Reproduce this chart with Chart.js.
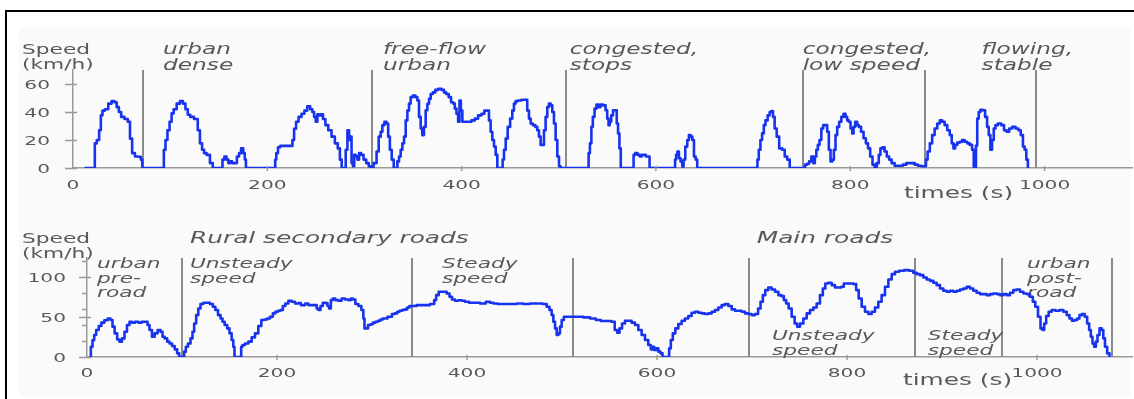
<!DOCTYPE html>
<html>
<head>
<meta charset="utf-8">
<script src="https://cdn.jsdelivr.net/npm/chart.js@4.4.1/dist/chart.umd.min.js"></script>
<style>
  html, body { margin: 0; padding: 0; background: #ffffff; }
  #wrap { position: relative; width: 1134px; height: 399px; overflow: hidden; }
  #frame { position: absolute; left: 5px; top: 10px; width: 1140px; height: 400px;
           border-top: 2px solid #000; border-left: 2px solid #000; }
  #panel { position: absolute; left: 19px; top: 28px; width: 1112px; height: 368px; background: #fafafa; }
  canvas { position: absolute; left: 0; }
</style>
</head>
<body>
<div id="wrap">
  <div id="frame"></div>
  <div id="panel"></div>
  <canvas id="urban" width="1134" height="200" style="top:0"></canvas>
  <canvas id="road" width="1134" height="199" style="top:200px"></canvas>
</div>
<script>
// ---------- Upper panel: urban cycle ----------
const urbanTimes = [
  12, 21.9, 23, 26, 27.8, 29.5, 31.2, 34.6, 38, 41.5, 43.9, 46, 48.4, 50.8, 55.2, 57.6, 59.7, 62, 65.5, 69, 70.6, 72,
  93, 94, 96.4, 98, 100.8, 102.2, 105, 108.4, 111.8, 114.5, 117, 119.3, 122, 127.2, 129.6, 131.7, 134, 135.8, 139.2, 142.7, 145,
  153, 154.7, 157, 159, 160.8, 162.6, 165, 167.4, 170, 171.8, 174.2, 176.3, 177.3, 178.7,
  207.8, 208.5, 210, 212, 214.7, 225, 226.7, 228.4, 230.8, 233.5, 237, 239.4, 242.8, 245.5, 247.3, 249, 250.7, 252.4, 254, 256,
  258.6, 261, 264.4, 267.8, 271.3, 273.7, 275.7, 277.4, 279.8, 281.6, 283.3, 285, 286, 287.4, 288.8, 290.1, 291.8, 293.6, 295.3,
  297.7, 300.4, 303.2, 305.6, 307.3,
  311.4, 313.5, 315.8, 317.6, 319.3, 321.7, 323.7, 325.1, 327.2, 328.9, 331.3, 333, 334.7, 336.4, 338.1, 339.9, 341.6, 343.3,
  345, 346.7, 348.4, 351.2, 353.6, 355.3, 357, 358.7, 360.4, 362.1, 363.9, 365.6, 367.3, 369, 371.7, 374.1, 377.6, 381, 382.7,
  385.5, 387.9, 390.3, 392.3, 393.7, 395.7, 397.1, 398.5, 399.9, 401.6, 408.4, 411.9, 415.3, 418.7, 422.2, 424.6, 427.3, 429,
  430.7, 432.4, 434.2, 435.9, 437.6, 441.7, 442.7, 444.5, 446.2, 448.6, 451.3, 453, 454.7, 456.4, 459.8, 463.3, 466.7, 468.4,
  470.2, 471.9, 474.6, 477, 478.7, 480.5, 482.2, 483.9, 485.6, 487.3, 489, 490.7, 492.5, 494.2, 495.9, 497.6, 499.4, 501.1, 502.7,
  530.2, 531.2, 532.9, 534.2, 535.9, 537.7, 539.8, 542.1, 543.9, 547.3, 549, 550.7, 551.7, 553.1, 554.8, 556.9, 559, 560.3,
  561.7, 563.1, 564.5, 576.5, 577.5, 579.9, 582.3, 584.4, 586.7, 592.6, 594.3,
  619.3, 620.1, 621.4, 622.8, 624.5, 626.2, 627.9, 629, 631.4, 633.1, 634.8, 636.6, 638.3, 640, 641.7, 643.3,
  704.1, 704.8, 706.9, 708.2, 710.3, 711.7, 713.8, 716.2, 717.9, 719.6, 721.3, 723.1, 725.5, 728.2, 731.7, 733.4, 736.8, 738.6,
  752, 754.8, 756.5, 758.9, 761, 762.7, 764.4, 765.8, 767.5, 769.2, 771.3, 773, 775.4, 777.1, 778.8, 780.6, 782.3, 784, 785.7,
  787.4, 789.8, 791.9, 794.3, 796, 797.7, 799.4, 801.2, 802.9, 803.9, 806.3, 808, 809.7, 812.5, 814.9, 817.3, 819.3, 821.7,
  824.1, 826.1, 828.5, 830.2, 831.9, 834.3, 836.4, 838.8, 841.2, 843.9, 847.4, 852.5, 856, 859.4, 864.6, 868, 871.4, 875,
  877.3, 878.6, 880.7, 883.1, 885.5, 888.2, 891, 893.4, 895.8, 898.5, 901.2, 903.6, 905.3, 907.1, 908.8, 911.5, 913.9, 916.3,
  919.1, 921.8, 924.2, 926.6, 927.6, 928.8, 930, 931.4, 933.1, 934.8, 937.6, 940, 941.7, 943.4, 945.1, 946.8, 948.6, 950.3,
  953.7, 957.1, 959.5, 962.3, 965, 968.4, 971.9, 974.3, 976.7, 978.8, 980.2, 982.2, 983.5
];
const urbanSpeeds = [
  0, 0, 17.6, 20, 27, 37.6, 41, 42, 46, 47.8, 47, 43.5, 40, 36.5, 35, 33, 21, 10.6, 8.2, 8, 6, 0,
  0, 13, 20, 27, 33, 39, 42, 46, 47.8, 46, 42, 38, 36.5, 35, 27, 17.6, 13, 10.6, 9.4, 3.5, 0,
  0, 6, 8.2, 6, 3.5, 4.7, 3.5, 3.5, 8.2, 10.6, 14, 10.6, 6, 0,
  0, 6, 10.6, 14.8, 15.8, 15.8, 20, 28, 33, 36.5, 38.8, 41, 44, 42, 40, 36.5, 33, 38.4, 37.6, 38.4,
  35, 30.6, 27, 22.4, 17.6, 14, 6, 0, 0, 13, 27, 20, 22.4, 3.5, 1.2, 9.4, 8.2, 6, 10.6,
  9.4, 6, 3.5, 1.2, 0,
  3.5, 11.8, 22.4, 25.9, 30.6, 33, 31.8, 22.4, 13, 6, 0, 0, 4.7, 8.2, 13, 17.6, 22.4, 34,
  41, 46, 50.6, 51.8, 50.6, 48.2, 36.5, 28.2, 23.5, 29.4, 41.2, 45.9, 49.4, 52.9, 54, 55.8, 56.5, 55.8, 54,
  52.9, 50.6, 47, 46, 42.4, 38.8, 33, 48.2, 41, 33, 33, 34, 35.3, 37.6, 38.8, 41, 41, 34,
  25.9, 20, 15.3, 9.4, 0, 0, 6, 13, 21, 29.4, 35.3, 41, 46, 47.8, 48.2, 48.7, 48.7, 41,
  35.3, 31.8, 30.6, 29.4, 27, 22.4, 16.5, 16.5, 27, 36.5, 43.5, 46, 44.7, 40, 31.8, 20, 8.2, 1.2, 0,
  0, 10.6, 17.6, 29.4, 36.5, 42.4, 45.4, 43.5, 45.4, 44.7, 41.2, 35.3, 30.6, 33, 37.6, 41.2, 41.2, 31.8,
  24.7, 14, 0, 0, 9.4, 10.6, 9.4, 8.2, 9.4, 8.2, 0,
  0, 6, 9.4, 11.8, 7, 4.7, 1, 6, 15.3, 20, 23.5, 22.4, 20, 8.2, 6, 0,
  0, 6, 13, 20, 24.7, 30.6, 34, 37.6, 40, 40.7, 36.5, 28.2, 22.4, 14, 13, 8.2, 6, 0,
  0, 2.4, 3, 4.7, 8.2, 3.5, 8.2, 13, 16.5, 20, 28.2, 30.6, 30.6, 25.9, 13, 4.7, 5.9, 13, 23.5,
  29.4, 33, 36.5, 38.8, 36.5, 34, 33, 28.2, 24.7, 29.4, 33, 30.6, 29.4, 25.9, 21.2, 17.6, 14, 8.2,
  2.4, 0, 3.5, 9.4, 14, 14.8, 11.8, 8.2, 6, 3.5, 1.6, 1.6, 2.4, 3.5, 3.5, 2.4, 1.6, 1.2,
  1.2, 6, 11.8, 17.6, 23.5, 28.2, 31.8, 34, 33, 30.6, 27, 23.5, 17.6, 14, 16.5, 18.1, 18.8, 20,
  18.8, 17.6, 16.5, 13, 0, 0, 16, 35.3, 40, 41.6, 41.2, 36.5, 29.4, 23.5, 13, 20, 28.2, 30.6,
  31.8, 30.6, 27, 25.9, 28.2, 29.4, 28.2, 27, 23.5, 15.3, 13, 6, 0
];
const urbanZoneEnds = [72, 308, 507, 751, 877, 991];
const urbanZoneNames = [["urban", "dense"], ["free-flow", "urban"], ["congested,", "stops"],
                        ["congested,", "low speed"], ["flowing,", "stable"]];
const urbanXTicks = [0, 200, 400, 600, 800, 1000];
const urbanYTicks = [0, 20, 40, 60];
const urbanYLabels = [0, 20, 40, 60];

// ---------- Lower panel: rural and main roads ----------
const roadTimes = [
  3.2, 4.9, 6.7, 8.4, 10.9, 13.7, 16.5, 20, 23.5, 26, 27.7, 30.5, 33, 35.4, 38.2, 40.7, 43.5, 46, 48.8, 52.3, 55.8, 59.3,
  62.8, 64.6, 67, 69.8, 72.6, 76.1, 78.6, 80.4, 83.2, 85.6, 88.1, 90.9, 93.7, 96.1, 97.9,
  101.4, 103.2, 104.9, 107.7, 110.2, 111.9, 113.7, 116.1, 118.2, 120.7, 124.2, 127.7, 131.2, 133.7, 136.5, 139.3, 141.8,
  143.5, 146.3, 148.8, 151.2, 153.3, 154.7, 155.8, 161.8, 162.8, 164.6, 168.1, 171.6, 175.1, 178.6, 182.1, 184.9, 188.4,
  190.9, 194.4, 196.8, 199.6, 202.5, 204.9, 207.4, 210.2, 213.7, 217.2, 220.7, 224.2, 226, 228.4, 231.2, 234.7, 238.2, 241,
  242.5, 244.6, 247, 249.5, 252.3, 254, 255.8, 257.5, 260, 262.8, 266.3, 269.8, 273.3, 276.8, 278.6, 281.1, 283.9, 287.4,
  290.2, 291.6, 292.6, 294.4, 297.2, 299.6, 302.1, 304.9, 307.7, 310.2, 312.6, 315.4, 317.2, 319.6, 322.5, 325.3, 327.7,
  330.2, 333, 335.8, 338.2, 340.7,
  343.5, 350.5, 357.5, 364.6, 366.3, 368.8, 371.6, 376.8, 380.4, 382.8, 385.6, 389.1, 392.6, 396.1, 399.6, 404.9, 410.2,
  417.2, 422.5, 426, 429.5, 434.7, 441.8, 448.8, 455.8, 462.8, 469.8, 476.8, 482.1, 485.6, 488, 490.2, 491.6, 493.7, 495.1,
  497.2, 498.6, 500.7, 503.2, 506.7,
  512, 519, 526, 533, 538.2, 543.5, 550, 554, 557, 559.3, 561.8, 564.6, 568, 571.6, 575, 578.6, 582.1, 585.6, 589.1, 592.6,
  594.4, 596.1, 597.9, 600.4, 602.5, 604.9, 606.7, 611.9, 613.7, 615.4, 617.9, 620.7, 624.2, 627.7, 631.2, 634.7, 638.2,
  641.8, 645.3, 648.8, 652.3, 655.8, 659.3, 662.8, 666.3, 669.8, 673.3, 676.8, 680.4, 683.9, 687.4, 690.9, 694.4, 697.9,
  701.4, 705, 707.8, 710.2, 712.6, 715.4, 718.9, 722.5, 726, 729.5, 732.3, 734.7, 737.2, 740, 743.5, 746.3, 748.8, 752.3,
  755.8, 759.3, 762.8, 766.3, 769.8, 773.3, 775.8, 778.6, 782.1, 785.6, 789.1, 792.6, 795.4, 797.9, 801.4, 804.9, 808.4,
  810.9, 813.7, 817.2, 820.7, 824.2, 827.7, 831.2, 834.7, 838.2, 841.8, 845.3, 848.8, 852.3, 857.5, 862.8, 868, 871.6,
  875.1, 878.6, 882.1, 885.6, 889.1, 892.6, 896.1, 899.6, 903.2, 906.7, 910.2, 913.7, 917.2, 920.7, 924.2, 927.7, 931.2,
  934.7, 938.2, 941.8, 945.3, 948.8, 952.3, 955.8, 959.3, 962.8, 966.3, 969.8, 973.3, 976.8, 980.4, 983.9, 987.4, 990.9,
  994.4, 996.8, 999.6, 1002.5, 1004.9, 1006.7, 1008.4, 1010.9, 1013.7, 1017.2, 1021.4, 1026, 1029.5, 1033, 1035.4, 1038.2,
  1041, 1043.5, 1045.9, 1048.8, 1051.6, 1054, 1055.8, 1057.5, 1059.3, 1061.1, 1062.8, 1064.6, 1067, 1069.1, 1070.5, 1072.6,
  1075.1, 1077.5
];
const roadSpeeds = [
  0, 12.9, 21, 27.5, 33.8, 38.8, 43, 46, 48.3, 46.3, 38, 29.6, 22, 19.2, 23.3, 31.7, 40, 44.2, 43, 44.2, 43, 44.2,
  44.2, 40, 33.8, 25.4, 29.6, 33.8, 31.7, 25.4, 23.3, 19.2, 17, 13.8, 9.6, 4.6, 0,
  0, 6.7, 12.9, 17, 23.3, 31.7, 42, 52.5, 60.8, 66.3, 68, 68, 66.3, 63, 58.8, 52.5, 48.3,
  44.2, 40, 35.8, 29.6, 21.3, 12.9, 0, 0, 12.9, 15, 17, 19.2, 24.6, 29.6, 38.8, 46.3, 47,
  48.3, 50.4, 54.6, 56.7, 58, 58.8, 63.8, 67, 70.4, 69.2, 67, 67.5, 65, 65, 67, 65, 65, 65,
  60.8, 58.8, 63.8, 68, 67.5, 63.8, 60.8, 71.3, 73.3, 71.3, 70.4, 73.3, 72, 71.3, 73.3, 72, 66.3, 63.8,
  58.8, 48.3, 35.8, 35.8, 40, 41, 43, 44.2, 45.4, 47, 48.3, 48.3, 50.4, 50.4, 53.8, 54.6, 56.7,
  58, 58.8, 59.6, 62, 63.8,
  63.8, 65, 65, 66.3, 71.3, 77.5, 81.7, 81.7, 79.6, 75.4, 72, 70.4, 71, 70.4, 69.2, 68, 68,
  67, 69.2, 68, 67, 66.3, 66.3, 66.3, 67, 66.3, 67, 67, 66.3, 63, 58.8, 52.5, 44.2, 35.8, 27.5,
  29.6, 38, 46.3, 50.4, 50.4,
  50.4, 50.4, 49.6, 48.3, 46.3, 45, 45, 44.2, 33.8, 30.4, 35.8, 42, 45.4, 45.4, 43, 40, 33.8, 27.5, 21.3, 15,
  9.6, 12.9, 8.8, 10.8, 6.7, 4.6, 0, 0, 10.8, 21.3, 29.6, 35.8, 41.3, 45.4, 48.3, 51.3, 55.4,
  56.7, 55.4, 54.6, 53.8, 54.6, 56.7, 58.8, 62, 65, 66.3, 63.8, 59.6, 58, 58, 56.7, 54.6, 53.8,
  52.5, 53.8, 60.8, 69.2, 77.5, 83.8, 87, 84.6, 81.7, 77.5, 76.3, 71.3, 67, 60.8, 50.4, 42, 37.9, 42,
  48.3, 54.6, 58.8, 62, 67, 77.5, 85.8, 92, 93, 90, 87, 87, 87.9, 92, 92, 92, 91.3,
  83.8, 73.3, 63, 56.7, 53.8, 56.7, 62, 69.2, 77.5, 88, 97, 103.8, 106.7, 108, 108.8, 108, 105.4,
  103.8, 102.5, 99.6, 97, 95.4, 93, 90, 85.8, 83, 81.7, 83, 81.7, 83, 84.6, 85.8, 88, 85.8,
  83, 80.4, 78.8, 78.8, 77.5, 78.8, 79.6, 78.8, 77.5, 78.8, 77.5, 80.4, 83.8, 84.6, 81.7, 79.6, 78.8,
  75.4, 69.2, 63, 50.4, 35.8, 33.8, 42, 51.3, 56.7, 58.8, 58, 58.8, 56.7, 52.5, 48.3, 45.4,
  46.3, 48.3, 52.5, 53.8, 50.4, 42, 33.8, 25.4, 17, 12.9, 19.2, 27.5, 35.8, 33.8, 23.3, 12.9,
  4.6, 0
];
const roadZoneEnds = [100, 342, 512, 697, 872, 963, 1079];
const roadXTicks = [0, 200, 400, 600, 800, 1000];
const roadYTicks = [0, 20, 40, 50, 60, 80, 100, 120];
const roadYLabels = [0, 50, 100];

// ---------- styling ----------
const LINE_BLUE = '#1733ee';
const AXIS_GREY = '#9a9a9a';
const SEP_GREY = '#8a8a8a';
const TEXT_GREY = '#595959';
const FONT = "'DejaVu Sans', Verdana, sans-serif";
const STRETCH = 1.55;   // wide lettering of the figure

function wideText(ctx, txt, x, y, font, align) {
  ctx.save();
  ctx.font = font;
  ctx.fillStyle = TEXT_GREY;
  ctx.textBaseline = 'alphabetic';
  ctx.textAlign = align || 'left';
  ctx.translate(x, y);
  ctx.scale(STRETCH, 1);
  ctx.fillText(txt, 0, 0);
  ctx.restore();
}

const cyclePlugin = {
  id: 'cycle',
  beforeDatasetsDraw(chart, args, o) {
    const { ctx, chartArea: a, scales: { x } } = chart;
    // zone separators
    ctx.save();
    ctx.strokeStyle = SEP_GREY;
    ctx.lineWidth = 2;
    o.bounds.forEach(t => {
      const px = Math.round(x.getPixelForValue(t));
      ctx.beginPath();
      ctx.moveTo(px, a.top);
      ctx.lineTo(px, a.bottom);
      ctx.stroke();
    });
    ctx.restore();
    // zone captions
    o.notes.forEach(n => {
      const px = x.getPixelForValue(n.t);
      n.lines.forEach((ln, i) => wideText(ctx, ln, px, a.top + n.dy + i * n.gap, n.font, 'left'));
    });
  },
  afterDraw(chart, args, o) {
    const { ctx, chartArea: a, scales: { x, y } } = chart;
    const tickFont = '13px ' + FONT;
    ctx.save();
    ctx.strokeStyle = AXIS_GREY;
    ctx.lineWidth = 1.5;
    o.xTicks.forEach(v => {
      const px = x.getPixelForValue(v);
      if (v > 0) {
        ctx.beginPath(); ctx.moveTo(px, a.bottom - 2); ctx.lineTo(px, a.bottom + 3); ctx.stroke();
      }
      wideText(ctx, String(v), px, a.bottom + o.xLabelDy, tickFont, 'center');
    });
    o.yTicks.forEach(v => {
      const py = Math.round(y.getPixelForValue(v)) + 0.5;
      const major = o.yLabels.includes(v);
      ctx.beginPath();
      ctx.moveTo(a.left - (major ? 8 : 5), py);
      ctx.lineTo(a.left + (major ? 4 : 0), py);
      ctx.stroke();
      if (major) wideText(ctx, String(v), a.left - o.yLabelDx, py + 4.5, tickFont, 'right');
    });
    ctx.restore();
    const titleFont = '14px ' + FONT;
    wideText(ctx, 'Speed', 22, a.top + o.speedDy, titleFont, 'left');
    wideText(ctx, '(km/h)', 22, a.top + o.speedDy + 15, titleFont, 'left');
    wideText(ctx, 'times (s)', o.timeX, a.bottom + o.timeDy, '16px ' + FONT, 'left');
  }
};

function cycleChart(id, times, speeds, xMax, yMax, yAxisW, xAxisH, padTop, cycleOpts) {
  return new Chart(document.getElementById(id), {
    type: 'line',
    data: {
      datasets: [{
        data: times.map((t, i) => ({ x: t, y: speeds[i] })),
        borderColor: LINE_BLUE,
        borderWidth: 2.6,
        borderJoinStyle: 'round',
        pointRadius: 0,
        stepped: 'middle',
        fill: false,
        clip: 0
      }]
    },
    options: {
      responsive: false,
      animation: false,
      devicePixelRatio: 1,
      parsing: false,
      layout: { padding: { top: padTop, right: 2, bottom: 0, left: 0 } },
      plugins: { legend: { display: false }, tooltip: { enabled: false }, cycle: cycleOpts },
      scales: {
        x: {
          type: 'linear', min: 0, max: xMax,
          ticks: { display: false },
          grid: { display: false, drawTicks: false },
          border: { display: true, color: AXIS_GREY, width: 1.5 },
          afterFit(s) { s.height = xAxisH; }
        },
        y: {
          type: 'linear', min: 0, max: yMax,
          ticks: { display: false },
          grid: { display: false, drawTicks: false },
          border: { display: true, color: AXIS_GREY, width: 1.5 },
          afterFit(s) { s.width = yAxisW; }
        }
      }
    },
    plugins: [cyclePlugin]
  });
}

const noteItalic = 'italic 15px ' + FONT;
const noteSmall = 'italic 14px ' + FONT;
const noteLarge = 'italic 16px ' + FONT;
const urbanCaptionTimes = [92.6, 319, 511.3, 751, 935.2];

cycleChart('urban', urbanTimes, urbanSpeeds, 1090, 70, 73, 32, 70, {
  bounds: urbanZoneEnds,
  notes: urbanZoneNames.map((lines, i) => ({ lines, t: urbanCaptionTimes[i], dy: -16, gap: 16, font: noteItalic })),
  xTicks: urbanXTicks, yTicks: urbanYTicks, yLabels: urbanYLabels,
  xLabelDy: 21, yLabelDx: 23, speedDy: -16, timeX: 904, timeDy: 30
});

cycleChart('road', roadTimes, roadSpeeds, 1100, 124, 87, 42, 58, {
  bounds: roadZoneEnds,
  notes: [
    { lines: ['Rural secondary roads'], t: 108.4, dy: -15, gap: 15, font: noteLarge },
    { lines: ['Main roads'], t: 705, dy: -15, gap: 15, font: noteLarge },
    { lines: ['urban', 'pre-', 'road'], t: 10.5, dy: 10, gap: 14.5, font: noteSmall },
    { lines: ['Unsteady', 'speed'], t: 108.4, dy: 10, gap: 15, font: noteSmall },
    { lines: ['Steady', 'speed'], t: 373.7, dy: 10, gap: 15, font: noteSmall },
    { lines: ['Unsteady', 'speed'], t: 721, dy: 82, gap: 15, font: noteSmall },
    { lines: ['Steady', 'speed'], t: 885, dy: 82, gap: 15, font: noteSmall },
    { lines: ['urban', 'post-', 'road'], t: 989.5, dy: 10, gap: 14.5, font: noteSmall }
  ],
  xTicks: roadXTicks, yTicks: roadYTicks, yLabels: roadYLabels,
  xLabelDy: 20, yLabelDx: 21, speedDy: -15, timeX: 903, timeDy: 28
});
</script>
</body>
</html>
